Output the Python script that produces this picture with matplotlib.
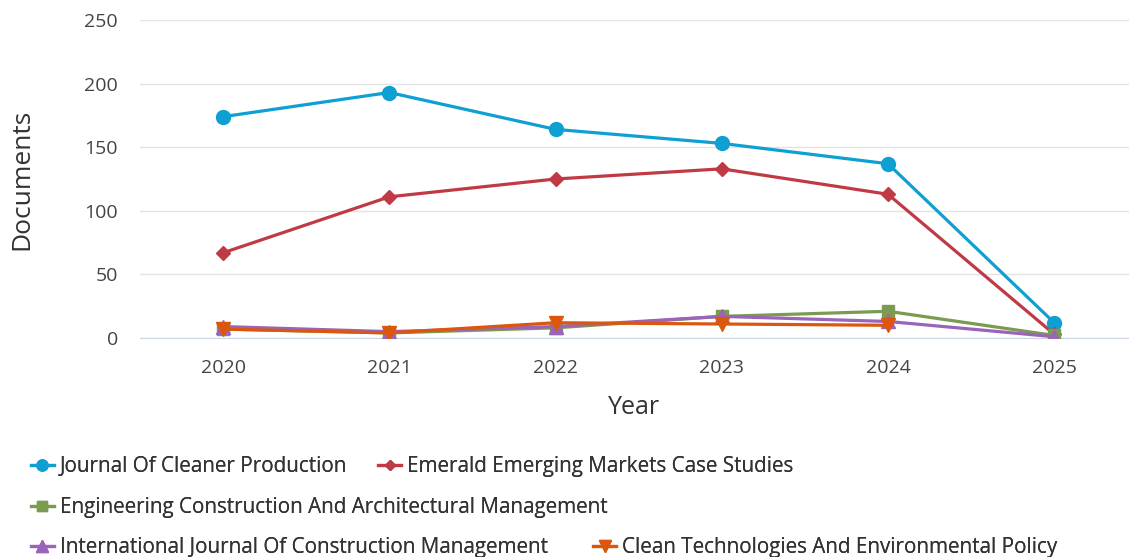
import matplotlib.pyplot as plt

plt.rcParams['font.family'] = ['Open Sans', 'DejaVu Sans']

years = [2020, 2021, 2022, 2023, 2024, 2025]
cleaner_production = [174, 193, 164, 153, 137, 12]
emerald_cases = [67, 111, 125, 133, 113, 3]
eng_construction = [7, 4, 8, 17, 21, 2]
int_construction = [9, 5, 9, 17, 13, 1]
clean_tech_years = [2020, 2021, 2022, 2023, 2024]
clean_tech = [7, 4, 12, 11, 10]

series = [
    ("Journal Of Cleaner Production", years, cleaner_production, '#0e9fd3', 'o', 10),
    ("Emerald Emerging Markets Case Studies", years, emerald_cases, '#c03a45', 'D', 7),
    ("Engineering Construction And Architectural Management", years, eng_construction, '#7a9b50', 's', 9),
    ("International Journal Of Construction Management", years, int_construction, '#9a64b8', '^', 10),
    ("Clean Technologies And Environmental Policy", clean_tech_years, clean_tech, '#dc570d', 'v', 10),
]

fig = plt.figure(figsize=(11.29, 5.57), dpi=100)
ax = fig.add_axes([140 / 1129, 1 - 338 / 557, 989 / 1129, 318 / 557])

handles = []
for name, xs, ys, col, mk, ms in series:
    ln, = ax.plot(xs, ys, color=col, lw=2.3, marker=mk, markersize=ms, label=name, zorder=3)
    handles.append(ln)

ax.set_xlim(2019.5, 2025.45)
ax.set_ylim(0, 250)
ax.set_yticks([0, 50, 100, 150, 200, 250])
ax.set_xticks(years)
ax.grid(axis='y', color='#e3e3e3', lw=1)
ax.set_axisbelow(True)
for s in ['top', 'right', 'left']:
    ax.spines[s].set_visible(False)
ax.spines['bottom'].set_color('#ccd6eb')
ax.tick_params(axis='both', length=0, labelsize=14, colors='#444444')
ax.tick_params(axis='y', pad=16)
ax.tick_params(axis='x', pad=15)
ax.set_xlabel('Year', fontsize=18, color='#333333', labelpad=13)
ax.set_ylabel('Documents', fontsize=19, color='#333333', labelpad=36)

# legend wraps into three rows like the original
rows = [([0, 1], 0.162, 1.5), ([2], 0.088, 1.5), ([3, 4], 0.017, 2.2)]
for idx, yb, cs in rows:
    leg = fig.legend([handles[i] for i in idx], [series[i][0] for i in idx],
                     loc='center left', bbox_to_anchor=(0.02, yb), ncol=len(idx),
                     frameon=False, fontsize=14.9, handlelength=1.1, handletextpad=0.3,
                     columnspacing=cs, markerscale=0.8, borderaxespad=0)
    for t in leg.get_texts():
        t.set_color('#333333')
    fig.add_artist(leg)

fig.savefig('out.png', dpi=100)
